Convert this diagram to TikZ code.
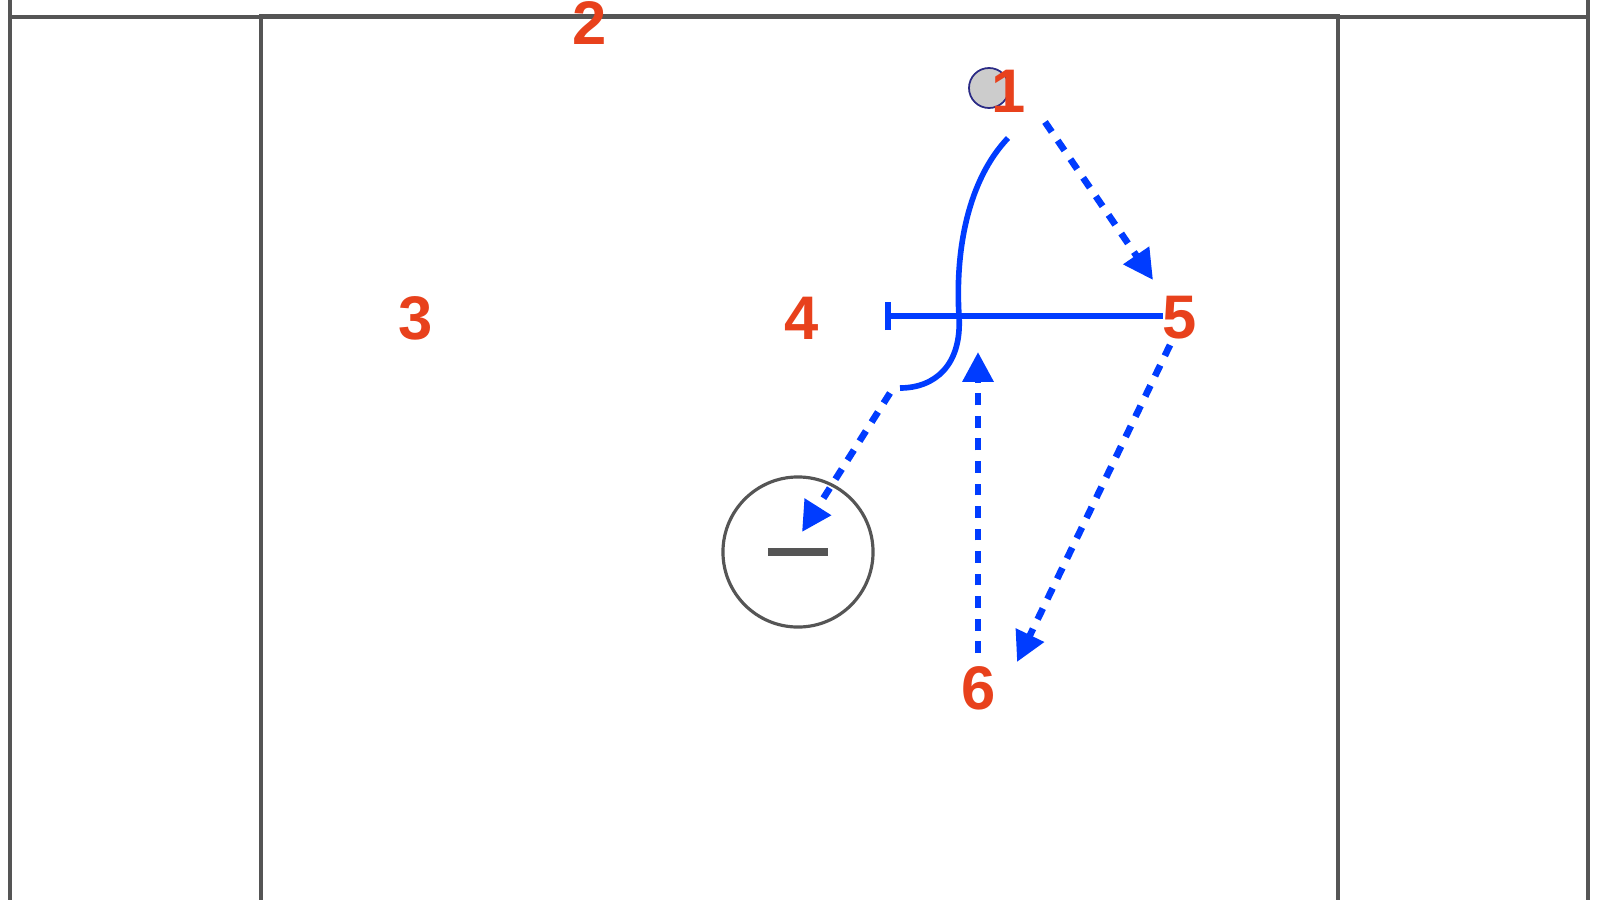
\documentclass[tikz,border=0pt]{standalone}
\usepackage{fontspec}
\setmainfont{Liberation Sans}
\usepackage{xcolor}
\usetikzlibrary{arrows.meta}
\definecolor{court}{HTML}{555555}
\definecolor{play}{HTML}{003CFF}
\definecolor{num}{HTML}{E8411C}
\definecolor{balledge}{HTML}{2B2B85}

\begin{document}
\begin{tikzpicture}[x=0.01cm,y=-0.01cm,
    line/.style={draw=court,line width=1pt},
    player/.style={text=num,font=\fontsize{17.5}{20}\selectfont\bfseries,inner sep=0pt},
    pass/.style={draw=play,line width=1.9pt,dash pattern=on 3.4pt off 3pt,-{Triangle[length=8.5pt,width=8.5pt]}},
    cut/.style={draw=play,line width=1.6pt}]
	\useasboundingbox (0,0) rectangle (1600,900);
	\fill[white] (0,0) rectangle (1600,900);
	% field lines
	\draw[line] (10,0) -- (10,900);
	\draw[line] (1588,0) -- (1588,900);
	\draw[line] (10,17) -- (1588,17);
	\draw[line,line width=1.2pt] (261,900) -- (261,16) -- (1338,16) -- (1338,900);
	% crease
	\node[circle,draw=court,line width=0.9pt,minimum size=1.5cm,inner sep=0pt] (crease) at (798,552) {};
	\draw[court,line width=2pt] ([xshift=-0.3cm]crease.center) -- ([xshift=0.3cm]crease.center);
	% ball
	\node[circle,fill=gray!40,draw=balledge,line width=0.5pt,minimum size=0.4cm,inner sep=0pt] (ball) at (989,88) {};
	% players
	\node[player] (p1) at (1009,91) {1};
	\node[player] (p2) at (590,23) {2};
	\node[player] (p3) at (416,318) {3};
	\node[player] (p4) at (802,318) {4};
	\node[player] (p5) at (1180,318) {5};
	\node[player] (p6) at (979,688) {6};
	% ends of the moves
	\coordinate (cutA) at (1008,138);
	\coordinate (cutB) at (900,388);
	\coordinate (scrA) at (885,316);
	\coordinate (scrB) at (1163,316);
	\coordinate (passA) at (1045,122);
	\coordinate (passB) at (1153,280);
	\coordinate (passC) at (1170,345);
	\coordinate (passD) at (1017,662);
	\coordinate (runA) at (978,653);
	\coordinate (runB) at (978,352);
	\coordinate (runC) at (890,393);
	\coordinate (runD) at (802,532);
	\draw[cut,{Bar[width=8pt]}-] (scrA) -- (scrB);
	\draw[cut] (cutA) .. controls (968,180) and (955,250) .. (959,316) .. controls (962,365) and (935,388) .. (cutB);
	\draw[pass] (passA) -- (passB);
	\draw[pass] (passC) -- (passD);
	\draw[pass] (runA) -- (runB);
	\draw[pass] (runC) -- (runD);
\end{tikzpicture}
\end{document}
